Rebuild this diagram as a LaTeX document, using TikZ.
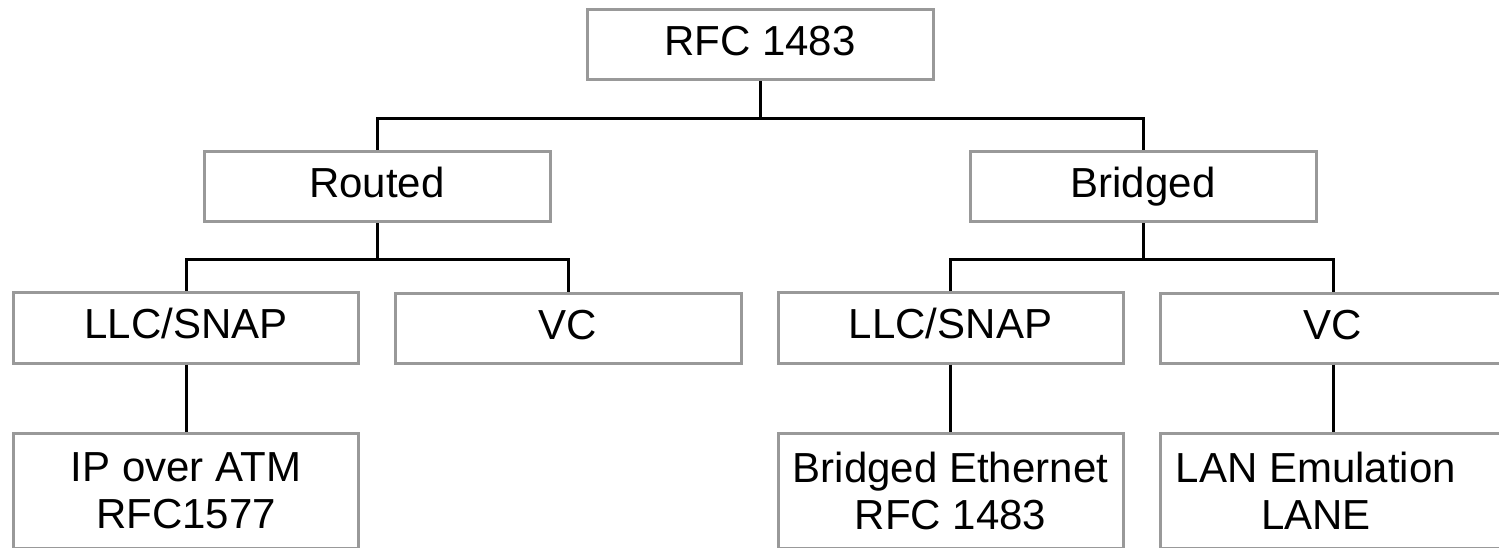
\documentclass[tikz,border=0pt]{standalone}
\usepackage{fontspec}
\setmainfont{Liberation Sans}
\begin{document}
\begin{tikzpicture}[x=1pt,y=-1pt,
  boxbase/.style={draw=black!40, line width=3pt, fill=white, minimum width=346pt, inner sep=0pt, font=\fontsize{42}{47}\selectfont, align=center},
  box/.style={boxbase, minimum height=70pt, text height=30pt, text depth=8pt},
  tallbox/.style={boxbase, minimum height=115pt},
  conn/.style={draw=black, line width=3pt},
  lbl/.style={inner sep=0pt, font=\fontsize{42}{47}\selectfont, align=center}]
\useasboundingbox (0,0) rectangle (1499,548);
\clip (0,0) rectangle (1499,548);
\node[box] (top) at (760,45) {RFC 1483};
\node[box] (routed) at (377,187) {Routed};
\node[box] (bridged) at (1143,187) {Bridged};
\node[box, minimum width=345pt, minimum height=71pt] (llc1) at (186,327.5) {LLC/SNAP};
\node[box] (vc1) at (568,328) {VC};
\node[box, minimum width=345pt, minimum height=71pt] (llc2) at (950.5,327.5) {LLC/SNAP};
\node[box] (vc2) at (1333,328) {VC};
\node[tallbox, minimum width=345pt] (ip) at (186,490.5) {IP over ATM\\RFC1577};
\node[tallbox, minimum width=345pt] (be) at (950.5,490.5) {Bridged Ethernet\\RFC 1483};
\node[tallbox, minimum width=346pt] (lane) at (1333,490.5) {};
\node[lbl] (lanetext) at (1316,490.5) {LAN Emulation\\LANE};
\draw[conn] (top.south) -- ++(0,37) coordinate (tb) -| (routed.north);
\draw[conn] (tb) -| (bridged.north);
\draw[conn] (routed.south) -- ++(0,36) coordinate (rb) -| (llc1.north);
\draw[conn] (rb) -| (vc1.north);
\draw[conn] (bridged.south) -- ++(0,36) coordinate (bb) -| (llc2.north);
\draw[conn] (bb) -| (vc2.north);
\draw[conn] (llc1.south) -- (ip.north);
\draw[conn] (llc2.south) -- (be.north);
\draw[conn] (vc2.south) -- (lane.north);
\end{tikzpicture}
\end{document}
